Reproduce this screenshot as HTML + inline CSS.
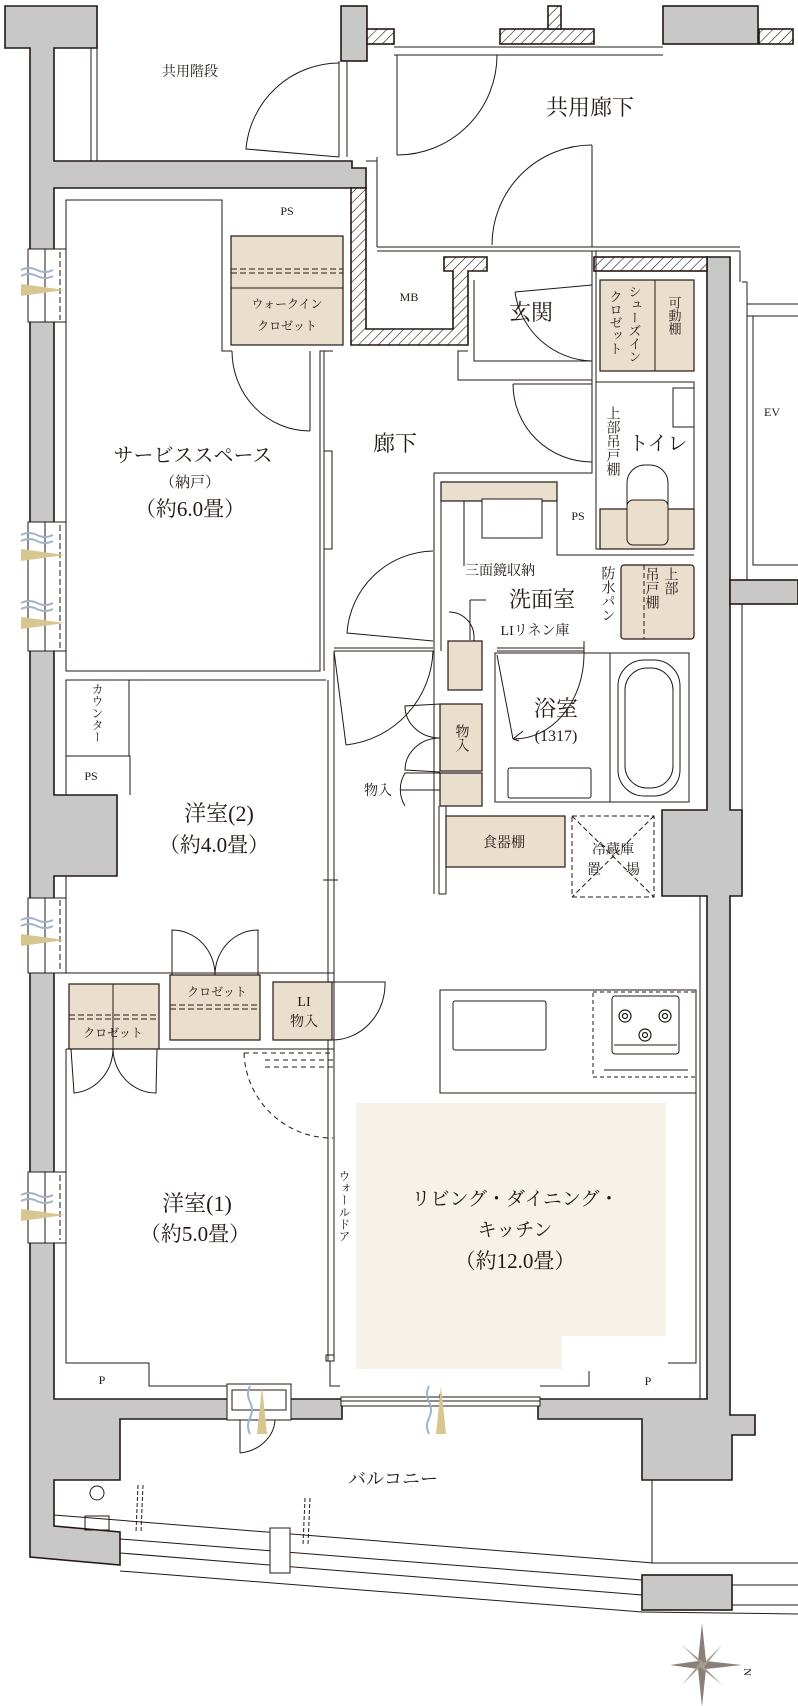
<!DOCTYPE html>
<html><head><meta charset="utf-8"><style>
html,body{margin:0;padding:0;background:#fff;}
svg{display:block;}
text{font-family:"Liberation Serif","Noto Serif CJK JP","Noto Serif CJK SC",serif;fill:#231815;}
.v{writing-mode:vertical-rl;}
</style></head><body>
<svg width="798" height="1706" viewBox="0 0 798 1706" xmlns="http://www.w3.org/2000/svg">
<defs>
<pattern id="h" patternUnits="userSpaceOnUse" width="7" height="7" patternTransform="rotate(45)">
<rect width="7" height="7" fill="#fff"/><line x1="0" y1="0" x2="0" y2="7" stroke="#231815" stroke-width="1.2"/>
</pattern>
<g id="vent">
<path d="M0,0 q8,-4 16,0 t16,0" fill="none" stroke="#9fb3cc" stroke-width="2"/>
<path d="M0,6 q8,-4 16,0 t16,0" fill="none" stroke="#9fb3cc" stroke-width="2"/>
<polygon points="0,14 44,20 0,26" fill="#d8c690"/>
</g>
<g id="ventv">
<path d="M0,0 q-4,8 0,16 t0,16 t0,16" fill="none" stroke="#9fb3cc" stroke-width="2"/>
<polygon points="12,0 17,48 7,48" fill="#d8c690"/>
</g>
</defs>
<g stroke="#231815" stroke-width="1.6">
<polygon fill="#c8c8c8" points="5,6 97,6 97,48 54,48 54,161 352,161 352,168 366,168 366,188 54,188 54,795 117,795 117,876 54,876 54,1399 342,1399 342,1419 120,1419 120,1480 54,1480 54,1526 120,1532 120,1565 30,1557 30,48 5,48"/>
<rect fill="#c8c8c8" x="341" y="6" width="26" height="55"/>
<rect fill="#c8c8c8" x="663" y="6" width="95" height="38"/>
<polygon fill="#c8c8c8" points="707,257 730,257 730,810 742,810 742,896 730,896 730,1415 755,1415 755,1435 732,1435 732,1480 642,1480 642,1419 538,1419 538,1399 707,1399 707,896 662,896 662,810 707,810"/>
<rect fill="#c8c8c8" x="730" y="580" width="68" height="24"/>
<rect fill="#c8c8c8" x="642" y="1575" width="90" height="35"/>
<rect fill="url(#h)" x="367" y="29" width="27" height="15"/>
<rect fill="url(#h)" x="500" y="29" width="94" height="15"/>
<rect fill="url(#h)" x="548" y="6" width="13" height="23"/>
<rect fill="url(#h)" x="759" y="29" width="34" height="15"/>
<polygon fill="url(#h)" points="351,188 366,188 366,329 453,329 453,271 444,271 444,257 487,257 487,271 468,271 468,345 351,345"/>
<rect fill="url(#h)" x="594" y="257" width="113" height="14"/>
</g>
<g fill="none" stroke="#231815" stroke-width="1">
<line x1="91" y1="48" x2="91" y2="161"/><line x1="97" y1="48" x2="97" y2="161"/>
<line x1="394" y1="47" x2="663" y2="47"/><line x1="394" y1="55" x2="663" y2="55"/>
<line x1="339" y1="61" x2="339" y2="157"/><line x1="347" y1="61" x2="347" y2="157"/>
<path d="M339,63 A94,94 0 0 0 246,149 L339,157"/>
<line x1="397" y1="55" x2="397" y2="155"/>
<path d="M497,55 A100,100 0 0 1 397,155"/>
<line x1="377" y1="157" x2="377" y2="247"/><line x1="366" y1="161" x2="377" y2="161"/>
<line x1="377" y1="247" x2="740" y2="247"/><line x1="377" y1="251" x2="740" y2="251"/>
<line x1="592" y1="145" x2="592" y2="247"/>
<path d="M592,145 A100,100 0 0 0 492,245"/>
<line x1="740" y1="251" x2="740" y2="282"/>
<polyline points="742,282 747,282 747,580"/><line x1="747" y1="304" x2="798" y2="304"/><line x1="747" y1="316" x2="798" y2="316"/>
<polyline points="753,316 753,565 798,565"/>
<line x1="742" y1="604" x2="798" y2="604"/><line x1="742" y1="604" x2="742" y2="810"/>
<polyline points="66,249 66,200 222,200 222,351 232,351"/>
<polyline points="66,322 66,671 320,671 320,351 333,351"/>
<line x1="324" y1="351" x2="324" y2="671"/>
<rect x="324" y="451" width="8" height="98"/>
<line x1="310" y1="351" x2="310" y2="431"/>
<path d="M232,351 A78,80 0 0 0 310,431"/>
<polyline points="468,351 458,351 458,380 592,380"/>
<polyline points="474,280 474,361 592,361"/>
<line x1="592" y1="251" x2="592" y2="461"/>
<line x1="596" y1="251" x2="596" y2="461"/>
<path d="M515,292 L592,285 M515,292 A80,80 0 0 0 592,361" />
<rect x="596" y="382" width="98" height="167"/>
<line x1="513" y1="384" x2="592" y2="384"/>
<path d="M513,384 A79,78 0 0 0 592,462"/>
<rect x="673" y="388" width="21" height="39"/>
<rect x="627" y="465" width="41" height="80" rx="18"/>
<polyline points="592,461 592,473 434,473 434,894"/>
<line x1="441" y1="482" x2="441" y2="651"/>
<polyline points="557,482 557,555 694,555"/>
<rect x="482" y="499" width="60" height="39"/>
<line x1="464" y1="488" x2="464" y2="566"/>
<path d="M433,551 A88,88 0 0 0 347,633 L433,641"/>
<line x1="334" y1="648" x2="433" y2="648"/><line x1="334" y1="651" x2="433" y2="651"/>
<line x1="497" y1="648" x2="584" y2="648"/><line x1="497" y1="651" x2="584" y2="651"/>
<line x1="584" y1="641" x2="584" y2="655"/>
<path d="M449,612 A25,25 0 0 1 474,637 L474,650"/>
<line x1="470" y1="600" x2="470" y2="640"/><line x1="470" y1="600" x2="486" y2="600"/>
<rect x="495" y="653" width="194" height="149"/>
<line x1="610" y1="653" x2="610" y2="802"/>
<rect x="618" y="660" width="62" height="136" rx="26"/>
<rect x="625" y="668" width="48" height="120" rx="22"/>
<rect x="508" y="768" width="83" height="30" rx="2"/>
<line x1="497" y1="655" x2="513" y2="739"/>
<path d="M584,655 A70,85 0 0 1 513,739"/>
<path d="M513,739 l10,-8 M513,739 l6,2"/>
<line x1="334" y1="651" x2="346" y2="745"/>
<path d="M433,651 A98,98 0 0 1 346,745"/>
<line x1="334" y1="651" x2="334" y2="1361"/><line x1="328" y1="680" x2="328" y2="1361"/>
<line x1="323" y1="880" x2="338" y2="880"/>
<path d="M440,704 l-35,2 a35,32 0 0 0 35,32 a35,32 0 0 0 -35,32 l35,2"/>
<path d="M440,773 l-35,0 a35,33 0 0 0 0,33"/>
<line x1="400" y1="790" x2="462" y2="790"/>
<line x1="439" y1="806" x2="439" y2="894"/><line x1="446" y1="806" x2="446" y2="894"/>
<line x1="446" y1="894" x2="439" y2="894"/>
<polyline points="66,795 66,680 326,680"/>
<line x1="66" y1="876" x2="66" y2="973"/>
<rect x="66" y="680" width="63" height="76"/>
<polyline points="66,756 130,756 130,795"/>
<line x1="66" y1="973" x2="334" y2="973"/><line x1="66" y1="1049" x2="334" y2="1049"/>
<path d="M172,975 L172,930 A43,45 0 0 1 215,975 A43,45 0 0 1 258,930 L258,975"/>
<path d="M71,1049 L74,1093 A43,45 0 0 0 113,1049 A43,45 0 0 0 156,1093 L157,1049"/>
<path d="M332,982 L385,982 A53,56 0 0 1 332,1040"/>
<path d="M244,1053 A88,88 0 0 0 333,1138" stroke-dasharray="5,4"/>
<line x1="244" y1="1053" x2="333" y2="1053" stroke-dasharray="5,4"/>
<line x1="265" y1="1060" x2="333" y2="1060" stroke-dasharray="5,4"/><line x1="265" y1="1067" x2="333" y2="1067" stroke-dasharray="5,4"/>
<polyline points="66,1049 66,1363 149,1363 149,1386 227,1386"/>
<rect x="326" y="1355" width="8" height="6"/>
<polyline points="330,1361 330,1386 340,1386"/>
<polyline points="696,990 696,1363 589,1363 589,1386 540,1386"/>
<line x1="700" y1="896" x2="700" y2="1399"/>
<rect x="440" y="990" width="256" height="103"/>
<rect x="453" y="1001" width="93" height="49" rx="2"/>
<rect x="593" y="992" width="103" height="85" stroke-dasharray="4,3"/>
<rect x="612" y="996" width="67" height="58" rx="3"/>
<line x1="614" y1="1045" x2="677" y2="1045"/>
<line x1="604" y1="1070" x2="688" y2="1070"/>
<rect x="572" y="816" width="82" height="81" stroke-dasharray="5,3"/>
<path d="M572,816 L654,897 M654,816 L572,897" stroke-dasharray="5,3"/>
<rect x="227" y="1384" width="64" height="36" fill="#fff"/>
<rect x="232" y="1390" width="54" height="20"/>
<line x1="240" y1="1420" x2="240" y2="1453"/>
<path d="M240,1453 A40,35 0 0 0 275,1420"/>
<rect x="341" y="1397" width="199" height="9" fill="#fff"/>
<line x1="341" y1="1401" x2="540" y2="1401"/>
<line x1="440" y1="1394" x2="440" y2="1410"/>
<line x1="652" y1="1480" x2="652" y2="1563"/>
<line x1="54" y1="1515" x2="653" y2="1563"/>
<line x1="120" y1="1539" x2="642" y2="1580"/>
<line x1="120" y1="1553" x2="642" y2="1595"/>
<line x1="120" y1="1571" x2="642" y2="1612"/>
<line x1="642" y1="1612" x2="798" y2="1614"/>
<line x1="652" y1="1563" x2="798" y2="1563"/>
<line x1="732" y1="1585" x2="798" y2="1585"/><line x1="732" y1="1605" x2="798" y2="1605"/>
<rect x="270" y="1528" width="20" height="45" fill="#fff"/>
<circle cx="97" cy="1493" r="7"/>
<path d="M138,1485 L136,1532 M143,1485 L141,1532" stroke-dasharray="4,2"/>
<path d="M305,1498 L303,1545 M310,1498 L308,1545" stroke-dasharray="4,2"/>
<rect x="85" y="1516" width="24" height="14"/>
</g>
<g stroke="#231815" stroke-width="1" fill="#fff">
<rect x="28" y="249" width="38" height="73"/><line x1="45" y1="249" x2="45" y2="322"/><line x1="60" y1="252" x2="60" y2="320" stroke-dasharray="6,3"/>
<rect x="28" y="522" width="38" height="129"/><line x1="45" y1="522" x2="45" y2="651"/><line x1="60" y1="525" x2="60" y2="648" stroke-dasharray="6,3"/>
<rect x="28" y="898" width="38" height="75"/><line x1="45" y1="898" x2="45" y2="973"/><line x1="60" y1="900" x2="60" y2="970" stroke-dasharray="6,3"/>
<rect x="28" y="1172" width="38" height="71"/><line x1="45" y1="1172" x2="45" y2="1243"/><line x1="60" y1="1175" x2="60" y2="1240" stroke-dasharray="6,3"/>
</g>
<use href="#vent" x="21" y="270"/><use href="#vent" x="21" y="535"/><use href="#vent" x="21" y="603"/>
<use href="#vent" x="21" y="920"/><use href="#vent" x="21" y="1195"/>
<use href="#ventv" x="250" y="1386"/><use href="#ventv" x="429" y="1386"/>
<g fill="#eadfcc" stroke="#231815" stroke-width="1.2">
<rect x="231" y="236" width="112" height="109"/>
<rect x="600" y="280" width="94" height="91"/>
<rect x="441" y="482" width="116" height="19"/>
<rect x="600" y="509" width="94" height="40"/>
<rect x="621" y="565" width="73" height="74" rx="3"/>
<rect x="448" y="641" width="34" height="49"/>
<rect x="440" y="704" width="42" height="67"/>
<rect x="440" y="773" width="42" height="33"/>
<rect x="446" y="816" width="119" height="51"/>
<rect x="69" y="984" width="90" height="65"/>
<rect x="170" y="975" width="90" height="65"/>
<rect x="273" y="982" width="59" height="58"/>
</g>
<rect x="356" y="1103" width="310" height="266" fill="#f6f2e8"/>
<rect x="562" y="1336" width="106" height="35" fill="#fff"/>
<g fill="none" stroke="#231815" stroke-width="1">
<line x1="231" y1="288" x2="343" y2="288"/>
<line x1="231" y1="269" x2="343" y2="269" stroke-dasharray="6,3"/><line x1="231" y1="273" x2="343" y2="273" stroke-dasharray="6,3"/>
<line x1="655" y1="280" x2="655" y2="371"/>
<line x1="600" y1="509" x2="694" y2="509" stroke-dasharray="6,3"/>
<rect x="627" y="500" width="41" height="45" rx="6" fill="#eadfcc"/>
<line x1="644" y1="565" x2="644" y2="639" stroke-dasharray="5,3"/>
<line x1="113" y1="984" x2="113" y2="1049"/>
<line x1="69" y1="1015" x2="159" y2="1015" stroke-dasharray="6,3"/><line x1="69" y1="1019" x2="159" y2="1019" stroke-dasharray="6,3"/>
<line x1="170" y1="1005" x2="260" y2="1005" stroke-dasharray="6,3"/><line x1="170" y1="1009" x2="260" y2="1009" stroke-dasharray="6,3"/>
<line x1="441" y1="501" x2="557" y2="501" stroke-dasharray="6,3"/>
<rect x="482" y="499" width="60" height="39" fill="#fff"/>
</g>
<g fill="none" stroke="#231815" stroke-width="1.2">
<circle cx="625" cy="1016" r="6"/><circle cx="665" cy="1016" r="6"/><circle cx="645" cy="1035" r="6"/>
<circle cx="625" cy="1016" r="2.5"/><circle cx="665" cy="1016" r="2.5"/><circle cx="645" cy="1035" r="2.5"/>
</g>
<g transform="translate(702,1665)">
<polygon points="0,-42 4,-4 40,0 4,4 0,42 -4,4 -32,0 -4,-4" fill="#8a8078"/>
<polygon points="-20,-20 2,-2 20,-20 2,2 20,20 -2,2 -20,20 -2,-2" fill="#a39a92"/>
</g>
<g>
<text x="190" y="76" font-size="14" text-anchor="middle">共用階段</text>
<text x="590" y="115" font-size="22" text-anchor="middle">共用廊下</text>
<text x="287" y="215" font-size="12" text-anchor="middle">PS</text>
<text x="287" y="308" font-size="12" text-anchor="middle">ウォークイン</text>
<text x="287" y="330" font-size="12" text-anchor="middle">クロゼット</text>
<text x="409" y="301" font-size="12" text-anchor="middle">MB</text>
<text x="531" y="320" font-size="22" text-anchor="middle">玄関</text>
<text x="634" y="285" font-size="13" class="v">シューズイン</text>
<text x="615" y="290" font-size="13" class="v">クロゼット</text>
<text x="674" y="296" font-size="13" class="v">可動棚</text>
<text x="772" y="416" font-size="12" text-anchor="middle">EV</text>
<text x="395" y="451" font-size="22" text-anchor="middle">廊下</text>
<text x="658" y="450" font-size="20" text-anchor="middle">トイレ</text>
<text x="612" y="406" font-size="14" class="v">上部吊戸棚</text>
<text x="578" y="520" font-size="12" text-anchor="middle">PS</text>
<text x="193" y="462" font-size="20" text-anchor="middle">サービススペース</text>
<text x="190" y="487" font-size="15" text-anchor="middle">（納戸）</text>
<text x="190" y="516" font-size="21" text-anchor="middle">（約6.0畳）</text>
<text x="500" y="575" font-size="14" text-anchor="middle">三面鏡収納</text>
<text x="542" y="607" font-size="22" text-anchor="middle">洗面室</text>
<text x="607" y="566" font-size="14" class="v">防水パン</text>
<text x="670" y="567" font-size="14" class="v">上部</text>
<text x="651" y="567" font-size="14" class="v">吊戸棚</text>
<text x="535" y="635" font-size="14" text-anchor="middle">LIリネン庫</text>
<text x="556" y="716" font-size="22" text-anchor="middle">浴室</text>
<text x="556" y="741" font-size="16" text-anchor="middle">(1317)</text>
<text x="461" y="724" font-size="14" class="v">物入</text>
<text x="378" y="795" font-size="14" text-anchor="middle">物入</text>
<text x="504" y="847" font-size="14" text-anchor="middle">食器棚</text>
<text x="613" y="854" font-size="14" text-anchor="middle">冷蔵庫</text>
<text x="594" y="874" font-size="14" text-anchor="middle">置</text>
<text x="633" y="874" font-size="14" text-anchor="middle">場</text>
<text x="97" y="683" font-size="12" class="v">カウンター</text>
<text x="91" y="780" font-size="12" text-anchor="middle">PS</text>
<text x="219" y="821" font-size="22" text-anchor="middle">洋室(2)</text>
<text x="214" y="852" font-size="21" text-anchor="middle">（約4.0畳）</text>
<text x="217" y="996" font-size="12" text-anchor="middle">クロゼット</text>
<text x="113" y="1037" font-size="12" text-anchor="middle">クロゼット</text>
<text x="304" y="1006" font-size="14" text-anchor="middle">LI</text>
<text x="304" y="1026" font-size="14" text-anchor="middle">物入</text>
<text x="197" y="1211" font-size="22" text-anchor="middle">洋室(1)</text>
<text x="195" y="1241" font-size="21" text-anchor="middle">（約5.0畳）</text>
<text x="344" y="1170" font-size="12" class="v">ウォールドア</text>
<text x="515" y="1205" font-size="19" text-anchor="middle">リビング・ダイニング・</text>
<text x="515" y="1236" font-size="19" text-anchor="middle">キッチン</text>
<text x="515" y="1268" font-size="21" text-anchor="middle">（約12.0畳）</text>
<text x="102" y="1384" font-size="12" text-anchor="middle">P</text>
<text x="648" y="1385" font-size="12" text-anchor="middle">P</text>
<text x="393" y="1485" font-size="18" text-anchor="middle">バルコニー</text>
<text x="748" y="1672" font-size="11" transform="rotate(90 748 1668)" fill="#555">N</text>
</g>
</svg>
</body></html>
